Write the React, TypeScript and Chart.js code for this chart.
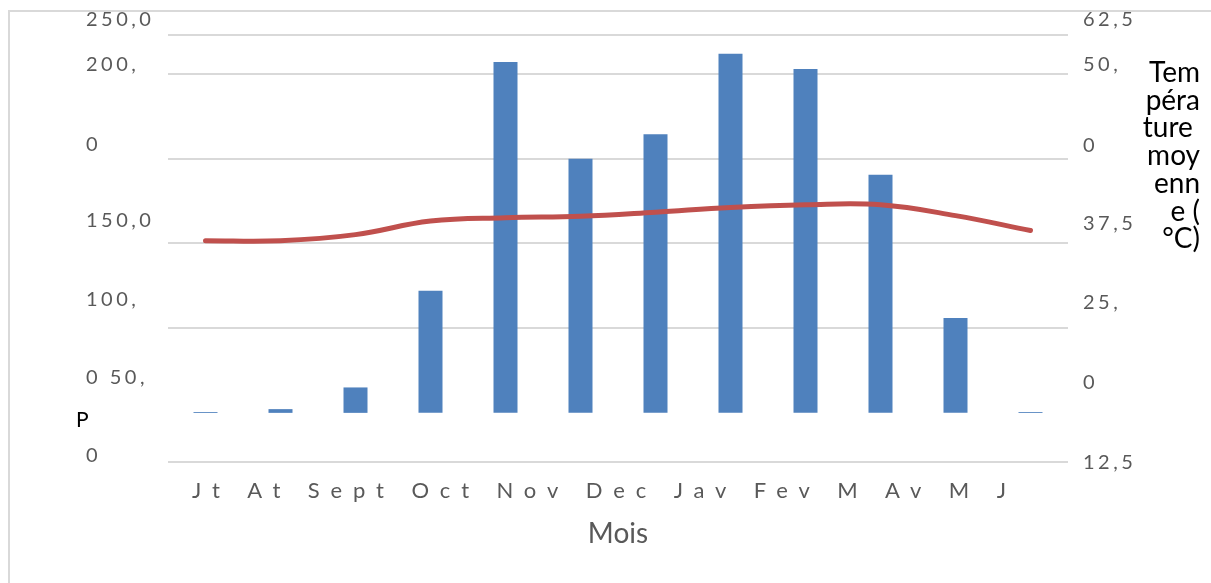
import React, { useEffect, useRef } from "react";
import { Chart, registerables } from "chart.js";

Chart.register(...registerables);

// ---- Data ----
const categories = ["Jt", "At", "Sept", "Oct", "Nov", "Dec", "Jav", "Fev", "M", "Av", "M", "J"];
const precipitation = [0.5, 2.2, 15, 72, 207, 150, 164.5, 212, 203, 140.5, 56, 0.5];
const temperature = [25.4, 25.4, 26.3, 28.3, 28.8, 29.0, 29.6, 30.3, 30.7, 30.7, 29.1, 26.9];

// grid lines of the precipitation axis
const precipGridValues = [50, 100, 150, 200];
// (garbled) tick labels as they appear, bottom to top, with their anchor values
const leftTickLabels = ["0", "0 50,", "100,", "150,0", "0", "200,", "250,0"];
const leftTickValues = [-25.1, 20.6, 66.6, 113.3, 158.4, 205.6, 231.9];
const rightTickLabels = ["12,5", "0", "25,", "37,5", "0", "50,", "62,5"];
const rightTickValues = [-7.3, 4.5, 16.3, 27.95, 39.5, 51.4, 58.0];

const xTitle = "Mois";
const leftTitle = "P";
const rightTitleLines = ["Tem", "péra", "ture ", "moy", "enn", "e (", "°C)"];

const precipMin = -29;
const precipMax = 223;
const tempMin = -7.25;
const tempMax = 55.75;

const GRAY = "#595959";
const FONT = "Lato";

const textPlugin = {
  id: "extraText",
  beforeDraw(chart: any) {
    for (const id of ["yL", "y1"]) {
      const s: any = chart.scales[id];
      if (s && !s.__ls) {
        const orig = s.drawLabels.bind(s);
        s.drawLabels = (area: any) => {
          const ctx = s.ctx;
          ctx.save();
          ctx.letterSpacing = "3.5px";
          orig(area);
          ctx.restore();
        };
        s.__ls = true;
      }
    }
  },
  afterDraw(chart: any) {
    const { ctx, chartArea } = chart;
    ctx.save();
    // category labels, rendered as one spaced run of text
    ctx.fillStyle = GRAY;
    ctx.font = `22px ${FONT}`;
    ctx.letterSpacing = "10.9px";
    ctx.textAlign = "left";
    ctx.textBaseline = "alphabetic";
    ctx.fillText(categories.join(" "), chartArea.left + 24, chartArea.bottom + 36);
    // left axis title (truncated)
    ctx.letterSpacing = "0px";
    ctx.fillStyle = "#000";
    ctx.font = `21px ${FONT}`;
    ctx.fillText(leftTitle, chartArea.left - 92, chartArea.bottom - 35);
    // right axis title, wrapped
    ctx.font = `28px ${FONT}`;
    ctx.textAlign = "right";
    rightTitleLines.forEach((line, i) => {
      ctx.fillText(line, chart.width - 11, chartArea.top + 47 + i * 27.7);
    });
    ctx.restore();
  },
};

export default function App() {
  const ref = useRef<HTMLCanvasElement>(null);

  useEffect(() => {
    const chart = new Chart(ref.current as HTMLCanvasElement, {
      type: "bar",
      data: {
        labels: categories,
        datasets: [
          {
            type: "line",
            label: "Température moyenne (°C)",
            data: temperature,
            yAxisID: "y1",
            borderColor: "#c0504d",
            backgroundColor: "#c0504d",
            borderWidth: 5,
            pointRadius: 0,
            tension: 0.4,
            borderCapStyle: "round",
            order: 0,
          } as any,
          {
            type: "bar",
            label: "P",
            data: precipitation,
            yAxisID: "y",
            backgroundColor: "#4f81bd",
            barPercentage: 0.32,
            categoryPercentage: 1,
            order: 1,
          } as any,
        ],
      },
      options: {
        responsive: true,
        maintainAspectRatio: false,
        animation: false,
        layout: { padding: { left: 86, top: 35, right: 0, bottom: 0 } },
        plugins: {
          legend: { display: false },
          tooltip: { enabled: false },
        },
        scales: {
          x: {
            type: "category",
            grid: { display: false },
            border: { display: false },
            ticks: { display: false },
            title: {
              display: true,
              text: xTitle,
              color: GRAY,
              font: { family: FONT, size: 28 },
              padding: { top: 0, bottom: 32 },
            },
            afterFit: (s: any) => {
              s.height = 121;
            },
          },
          y: {
            type: "linear",
            position: "left",
            min: precipMin,
            max: precipMax,
            grid: { color: "#d9d9d9", lineWidth: 2, drawTicks: false },
            border: { display: false },
            ticks: { display: false },
            afterBuildTicks: (s: any) => {
              s.ticks = [s.min, ...precipGridValues, s.max].map((v) => ({ value: v }));
            },
            afterFit: (s: any) => {
              s.width = 0;
            },
          },
          yL: {
            type: "linear",
            position: "left",
            min: precipMin,
            max: precipMax,
            grid: { display: false, drawTicks: false },
            border: { display: false },
            ticks: {
              autoSkip: false,
              crossAlign: "far",
              color: GRAY,
              font: { family: FONT, size: 20 },
              callback: (_v: any, i: number) => leftTickLabels[i],
            },
            afterBuildTicks: (s: any) => {
              s.ticks = leftTickValues.map((v) => ({ value: v }));
            },
            afterFit: (s: any) => {
              s.width = 82;
            },
          },
          y1: {
            type: "linear",
            position: "right",
            min: tempMin,
            max: tempMax,
            grid: { display: false, drawTicks: false },
            border: { display: false },
            ticks: {
              autoSkip: false,
              padding: 15,
              color: GRAY,
              font: { family: FONT, size: 20 },
              callback: (_v: any, i: number) => rightTickLabels[i],
            },
            afterBuildTicks: (s: any) => {
              s.ticks = rightTickValues.map((v) => ({ value: v }));
            },
            afterFit: (s: any) => {
              s.width = 143;
            },
          },
        } as any,
      },
      plugins: [textPlugin],
    });
    return () => chart.destroy();
  }, []);

  return (
    <div
      style={{
        position: "absolute",
        left: 0,
        top: 0,
        width: 1211,
        height: 583,
        overflow: "hidden",
        background: "#fff",
      }}
    >
      <div
        style={{
          position: "absolute",
          left: 8,
          top: 10,
          width: 1230,
          height: 600,
          borderLeft: "2px solid #d9d9d9",
          borderTop: "2px solid #d9d9d9",
        }}
      />
      <canvas
        ref={ref}
        style={{ position: "absolute", left: 0, top: 0, width: "100%", height: "100%" }}
      />
    </div>
  );
}
